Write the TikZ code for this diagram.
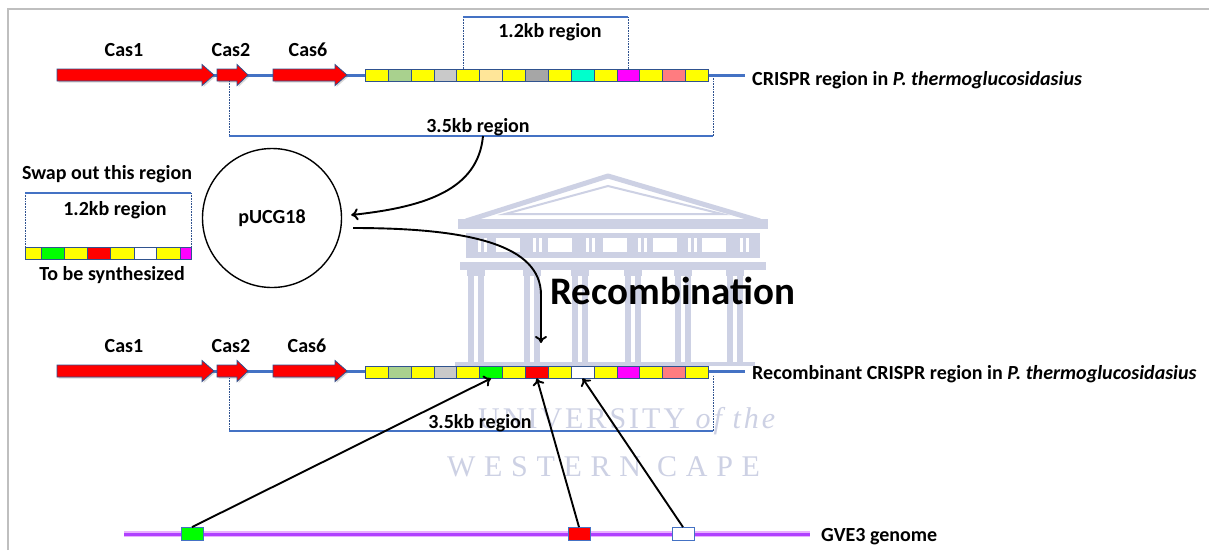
\documentclass[tikz,border=0pt]{standalone}
\usepackage{fontspec}
\setmainfont{Carlito}
\newfontfamily\crestfont[LetterSpace=10]{Liberation Serif}
\newfontfamily\crestwide[LetterSpace=29]{Liberation Serif}
\usetikzlibrary{positioning,shadows,arrows.meta}

\definecolor{dnablue}{RGB}{68,114,196}
\definecolor{edgeblue}{RGB}{47,82,143}
\definecolor{ylw}{RGB}{255,255,0}
\definecolor{lgrn}{RGB}{169,209,142}
\definecolor{lgry}{RGB}{201,201,201}
\definecolor{dgry}{RGB}{166,166,166}
\definecolor{ltan}{RGB}{255,230,153}
\definecolor{aqua}{RGB}{0,255,204}
\definecolor{mag}{RGB}{255,0,255}
\definecolor{salm}{RGB}{255,124,128}
\definecolor{grn}{RGB}{0,255,0}
\definecolor{crest}{RGB}{205,209,228}
\definecolor{border}{RGB}{191,191,191}
\definecolor{genome}{RGB}{176,64,255}
\definecolor{glow}{RGB}{234,176,255}

% one Cas gene: start, head base, tip, axis
\newcommand{\casgene}[4]{%
  \filldraw[cas] (#1,#4-6) -- (#2,#4-6) -- (#2,#4-10.5) -- (#3,#4)
    -- (#2,#4+10.5) -- (#2,#4+6) -- (#1,#4+6) -- cycle;}

\begin{document}
\begin{tikzpicture}[x=1pt, y=-1pt,
    lbl/.style={font=\fontsize{20}{23}\selectfont\bfseries, inner sep=0pt},
    rep/.style={draw=edgeblue, line width=0.6pt, minimum width=22.87, minimum height=12, inner sep=0pt, anchor=west},
    cas/.style={fill=red, draw=edgeblue, line width=0.8pt, drop shadow={shadow xshift=1.5pt, shadow yshift=-1.5pt, opacity=0.3}},
    backbone/.style={dnablue, line width=3pt},
    bracket/.style={dnablue, line width=1.5pt},
    guide/.style={edgeblue, densely dotted, line width=0.6pt},
    link/.style={-{To[length=7pt,width=12pt]}, line width=1.9pt},
    gbox/.style={draw=dnablue, line width=0.8pt, minimum width=22, minimum height=13, inner sep=0pt}]
\useasboundingbox (0,0) rectangle (1209,550);
\fill[white] (0,0) rectangle (1209,550);
\draw[border, line width=1.5pt] (8,550) -- (8,9) -- (1209,9);

% crest in the background
\begin{scope}[crest]
  \draw[line width=5pt, line join=round] (466,221) -- (608,176) -- (760,221);
  \draw[line width=2pt] (505,214) -- (608,186) -- (722,214) -- cycle;
  \fill (458,219) rectangle (768,229);
  \fill (466,233) rectangle (760,258);
  \foreach \x in {496,548,603,653,702} \fill[white] (\x,238) rectangle +(24,14);
  \foreach \x in {478,533,586,638,688,740} {
    \fill[white] (\x,238) rectangle +(3,14);
    \fill[white] (\x+6,238) rectangle +(3,14);
  }
  \fill (460,262) rectangle (766,270);
  \foreach \x in {476,532,580,633,683,735} {
    \fill (\x-9,270) rectangle (\x+9,276);
    \fill (\x-8,276) rectangle (\x-2,362);
    \fill (\x+2,276) rectangle (\x+8,362);
  }
  \fill (455,362) rectangle (755,366);
\end{scope}
\node[crest, font=\crestfont\fontsize{30}{32}\selectfont, anchor=base west, inner sep=0pt] (uni) at (478,428) {UNIVERSITY {\itshape of the}};
\node[crest, font=\crestwide\fontsize{30}{32}\selectfont, anchor=base west, inner sep=0pt] (wc) at (447,476) {WESTERN CAPE};

% wild type locus
\draw[backbone] (210,75) -- (745,75);
\casgene{57}{202}{214}{75}
\casgene{217}{237}{248}{75}
\casgene{273}{335}{347}{75}
\foreach \c [count=\i] in {ylw,lgrn,ylw,lgry,ylw,ltan,ylw,dgry,ylw,aqua,ylw,mag,ylw,salm,ylw}
  \node[rep, fill=\c] (a\i) at (342.13+22.87*\i, 75) {};
\node[lbl] (c1) at (124,50) {Cas1};
\node[lbl] (c2) at (231,50) {Cas2};
\node[lbl] (c6) at (308,50) {Cas6};
\node[lbl, anchor=base west] (wt) at (752,85) {CRISPR region in \textit{P. thermoglucosidasius}};

\draw[guide] (463,17) -- (463,69);
\draw[guide] (628,17) -- (628,69);
\draw[bracket] (463,17) -- (628,17);
\node[lbl] (k1) at (550,32) {1.2kb region};
\draw[guide] (229,81) -- (229,136);
\draw[guide] (713,136) -- (713,78);
\draw[bracket] (229,136) -- (713,136);
\node[lbl] (k2) at (478,127) {3.5kb region};
\coordinate (q35) at (483,136);

% synthetic fragment
\node[lbl] (swap) at (107,174) {Swap out this region};
\draw[guide] (25,193) -- (25,247);
\draw[guide] (191,193) -- (191,247);
\draw[bracket] (25,193) -- (191,193);
\node[lbl] (k3) at (115,210) {1.2kb region};
\foreach \c/\w/\x [count=\i] in {ylw/16/25, grn/23/41, ylw/23/64, red/23/87, ylw/24/110, white/22/134, ylw/24/156, mag/11/180}
  \node[rep, fill=\c, minimum width=\w] (s\i) at (\x,253) {};
\node[lbl] (syn) at (112,275) {To be synthesized};

% plasmid
\node[circle, draw, line width=1.4pt, minimum size=139, lbl] (puc) at (272,218) {pUCG18};
\draw[link] (q35) .. controls (478,190) and (425,207) .. ([xshift=9pt,yshift=3pt]puc.east);
\coordinate (rx) at (541,343);
\draw[link] ([xshift=11pt,yshift=-10pt]puc.east) .. controls (470,228) and (541,245) .. (541,295) -- (rx);
\node[font=\fontsize{39}{42}\selectfont\bfseries, inner sep=0pt] (rec) at (673,291) {Recombination};

% recombinant locus
\draw[backbone] (210,371) -- (745,371);
\casgene{57}{202}{214}{371}
\casgene{217}{237}{248}{371}
\casgene{273}{335}{347}{371}
\foreach \c [count=\i] in {ylw,lgrn,ylw,lgry,ylw,grn,ylw,red,ylw,white,ylw,mag,ylw,salm,ylw}
  \node[rep, fill=\c] (b\i) at (342.13+22.87*\i, 372) {};
\node[lbl] (d1) at (124,346) {Cas1};
\node[lbl] (d2) at (231,346) {Cas2};
\node[lbl] (d6) at (307,346) {Cas6};
\node[lbl, anchor=base west] (rc) at (752,379) {Recombinant CRISPR region in \textit{P. thermoglucosidasius}};
\draw[guide] (229,378) -- (229,431);
\draw[guide] (713,431) -- (713,375);
\draw[bracket] (229,431) -- (713,431);
\node[lbl] (k4) at (480,423) {3.5kb region};

% donor genome
\draw[glow, line width=6pt] (124,534) -- (810,534);
\draw[genome, line width=3pt] (124,534) -- (810,534);
\node[gbox, fill=grn] (g1) at (192,534) {};
\node[gbox, fill=red] (g2) at (579,534) {};
\node[gbox, fill=white] (g3) at (683,534) {};
\node[lbl, anchor=base west] (gve) at (821,541) {GVE3 genome};
\draw[link] (g1.north) -- (b6.south);
\draw[link] (g2.north) -- (b8.south);
\draw[link] (g3.north) -- (b10.south);
\end{tikzpicture}
\end{document}
